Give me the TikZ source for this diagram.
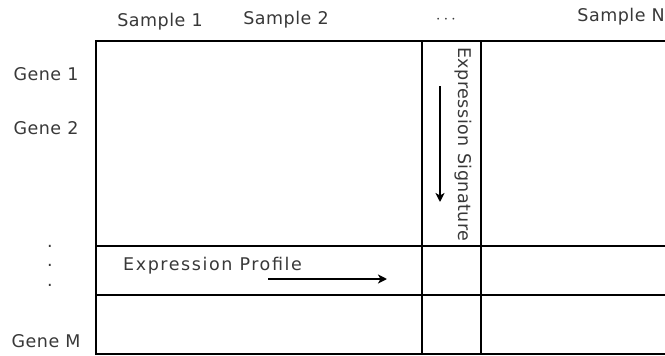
\documentclass[tikz,border=0pt]{standalone}
\usepackage{fontspec}
\usetikzlibrary{arrows.meta}
\setmainfont{DejaVu Sans}[LetterSpace=3]
\newfontfamily\widefont{DejaVu Sans}[LetterSpace=9]
\definecolor{txt}{HTML}{383838}
\begin{document}
\begin{tikzpicture}[x=1pt,y=-1pt,
  lab/.style={inner sep=0pt,text=txt,font=\fontsize{17.5}{20}\selectfont},
  thick line/.style={line width=2.4pt},
  grid line/.style={line width=1.8pt},
  arr/.style={line width=2pt,-{Stealth[length=9pt,width=9pt,inset=2.5pt]}}]
\useasboundingbox (0,0) rectangle (665,356);
% frame
\draw[thick line] (665,41) -- (96,41) -- (96,354) -- (665,354);
\draw[grid line] (422,41) -- (422,354);
\draw[grid line] (481,41) -- (481,354);
\draw[grid line] (96,246) -- (665,246);
\draw[grid line] (96,295) -- (665,295);
% column labels
\node[lab] (s1) at (160,22) {Sample 1};
\node[lab] (s2) at (286,20) {Sample 2};
\node[lab] (sd) at (446,20) {$\cdots$};
\node[lab,anchor=east] (sn) at (665,17) {Sample N};
% row labels
\node[lab] (g1) at (46,74) {Gene 1};
\node[lab] (g2) at (46,128) {Gene 2};
\node[lab] (d1) at (50,246) {.};
\node[lab] (d2) at (50,265) {.};
\node[lab] (d3) at (50,285) {.};
\node[lab] (gm) at (46,341) {Gene M};
% expression profile
\node[lab,anchor=west,font=\widefont\fontsize{17.5}{20}\selectfont] (ep) at (123,266) {Expression Profile};
\coordinate (pa) at (268,279);
\coordinate (pb) at (387,279);
\draw[arr] (pa) -- (pb);
% expression signature
\node[lab,rotate=-90,anchor=west] (es) at (463,47) {Expression Signature};
\coordinate (sa) at (440,86);
\coordinate (sb) at (440,202);
\draw[arr] (sa) -- (sb);
\end{tikzpicture}
\end{document}
